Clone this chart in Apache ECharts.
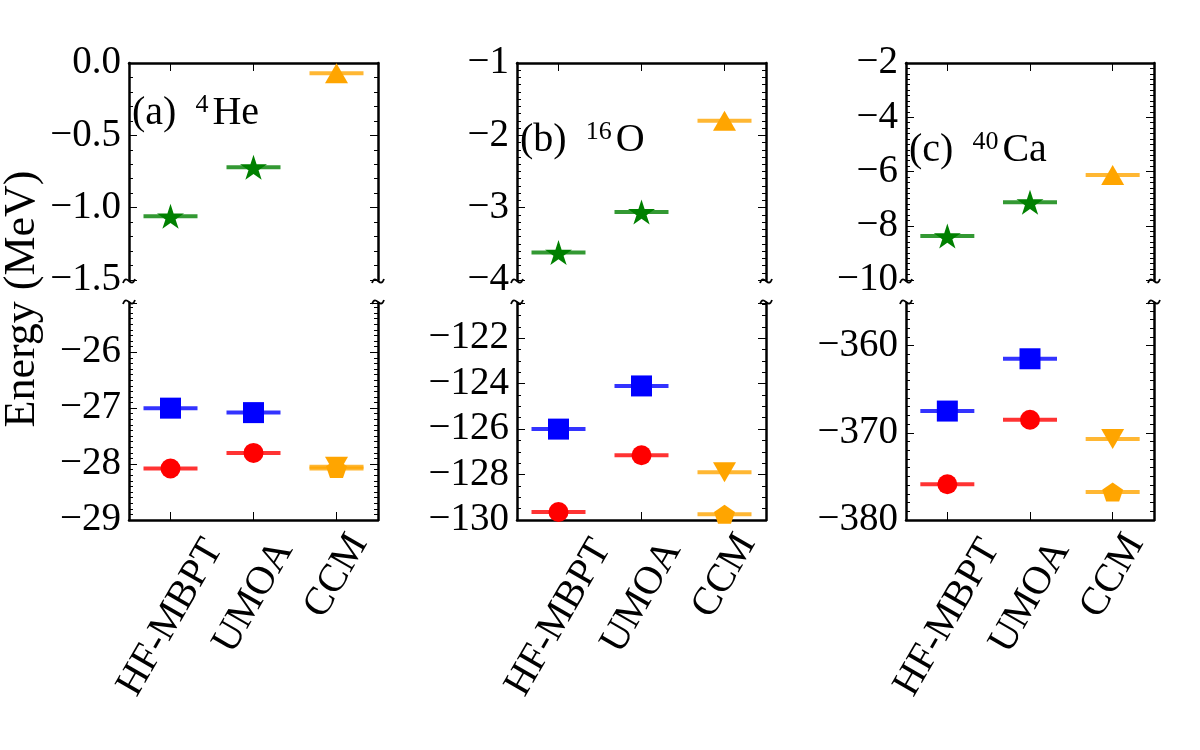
<!DOCTYPE html>
<html>
<head>
<meta charset="utf-8">
<script src="https://cdn.jsdelivr.net/npm/echarts@6/dist/echarts.min.js"></script>
<style>
html, body { margin: 0; padding: 0; background: #fff; }
#main { width: 1200px; height: 750px; }
</style>
</head>
<body>
<div id="main"></div>
<script>
const methods = ['HF-MBPT', 'UMOA', 'CCM'];

// upper panels (stars: green, up-triangle: orange)
const he4Star = [-1.06, -0.72, null];
const he4UpTri = [null, null, -0.07];
const o16Star = [-3.62, -3.06, null];
const o16UpTri = [null, null, -1.80];
const ca40Star = [-8.38, -7.13, null];
const ca40UpTri = [null, null, -6.13];

// lower panels
const he4Square = [-27.0, -27.08, null];
const he4Circle = [-28.08, -27.8, null];
const he4DownTri = [null, null, -28.05];
const he4Pentagon = [null, null, -28.08];

const o16Square = [-126.0, -124.1, null];
const o16Circle = [-129.65, -127.15, null];
const o16DownTri = [null, null, -127.9];
const o16Pentagon = [null, null, -129.75];

const ca40Square = [-367.5, -361.5, null];
const ca40Circle = [-375.9, -368.5, null];
const ca40DownTri = [null, null, -370.7];
const ca40Pentagon = [null, null, -376.8];

// axis ranges
const upperMin = [-1.5, -4, -10];
const upperMax = [0, -1, -2];
const upperStep = [0.5, 1, 2];
const upperMinor = [5, 10, 10];
const lowerMin = [-29, -130, -380];
const lowerMax = [-25.12, -120.45, -355.1];
const lowerStep = [1, 2, 10];
const lowerMinor = [10, 4, 10];

const panelTag = ['(a) ', '(b) ', '(c) '];
const panelMass = ['4', '16', '40'];
const panelElem = ['He', 'O', 'Ca'];

const FONT = 'Liberation Serif';
const GREEN = '#008000', BLUE = '#0000ff', RED = '#ff0000', ORANGE = '#ffa500';
const STAR = 'path://M50,0 L61,35 L98,35 L68,57 L79,91 L50,70 L21,91 L32,57 L2,35 L39,35 Z';
const PENT = 'path://M50,0 L100,38 L81,100 L19,100 L0,38 Z';

const cols = [
  { left: 129, width: 249 },
  { left: 517, width: 249 },
  { left: 906, width: 248 }
];
const upTop = 63, lowTop = 303, panelH = 217;

const fmtMinus = (v, dec) => {
  const s = dec ? v.toFixed(dec) : String(Math.round(v));
  return s.replace('-', '\u2212');
};

const grids = [], xAxes = [], yAxes = [], series = [];

// shifts rotated labels so each one is centred under its tick, tops aligned
const labelPad = {
  hf: [42, 72, 0, 0],
  um: [21, 36, 0, 0],
  cc: [0, 0, 0, 0]
};
const labelKey = { 'HF-MBPT': 'hf', 'UMOA': 'um', 'CCM': 'cc' };

function addGrid(col, lower) {
  const g = grids.length;
  grids.push({ left: cols[col].left, width: cols[col].width, top: lower ? lowTop : upTop, height: panelH });
  const rich = {};
  Object.keys(labelPad).forEach(k => {
    rich[k] = { fontFamily: FONT, fontSize: 40, color: '#000', padding: labelPad[k] };
  });
  xAxes.push({
    type: 'category', data: methods, gridIndex: g,
    position: lower ? 'bottom' : 'top',
    boundaryGap: true,
    axisLine: { show: true, onZero: false, lineStyle: { color: '#000', width: 2.5 } },
    axisTick: { show: true, inside: true, alignWithLabel: true, length: 8, lineStyle: { color: '#000', width: 1 } },
    axisLabel: lower ? {
      show: true, interval: 0, rotate: 60, align: 'center', verticalAlign: 'middle', margin: 56,
      formatter: v => '{' + labelKey[v] + '|' + v + '}', rich: rich
    } : { show: false },
    splitLine: { show: false }
  });
  const min = lower ? lowerMin[col] : upperMin[col];
  const max = lower ? lowerMax[col] : upperMax[col];
  const step = lower ? lowerStep[col] : upperStep[col];
  const minor = lower ? lowerMinor[col] : upperMinor[col];
  const dec = (!lower && col === 0) ? 1 : 0;
  ['left', 'right'].forEach(pos => {
    yAxes.push({
      type: 'value', gridIndex: g, position: pos, min: min, max: max, interval: step,
      axisLine: { show: true, onZero: false, lineStyle: { color: '#000', width: 2.5 } },
      axisTick: { show: true, inside: true, length: 8, lineStyle: { color: '#000', width: 1 } },
      minorTick: { show: true, splitNumber: minor, length: 4, lineStyle: { color: '#000', width: 1 } },
      splitLine: { show: false },
      minorSplitLine: { show: false },
      axisLabel: pos === 'left' ? {
        show: true, fontFamily: FONT, fontSize: 39, color: '#000', margin: 8,
        showMaxLabel: !lower,
        formatter: v => (Math.abs(v / step - Math.round(v / step)) > 1e-6 ? '' : fmtMinus(v, dec))
      } : { show: false }
    });
  });
  return g;
}

function pts(values) {
  const out = [];
  values.forEach((v, i) => { if (v !== null) out.push([methods[i], v]); });
  return out;
}

function addMarks(g, values, symbol, color, size, rot) {
  series.push({
    type: 'scatter', xAxisIndex: g, yAxisIndex: g * 2, z: 2, silent: true,
    symbol: 'rect', symbolSize: [54, 4], itemStyle: { color: color },
    data: pts(values)
  });
  series.push({
    type: 'scatter', xAxisIndex: g, yAxisIndex: g * 2, z: 3, silent: true,
    symbol: symbol, symbolSize: size, symbolRotate: rot || 0, itemStyle: { color: color, opacity: 1 },
    data: pts(values)
  });
}

const upperSets = [[he4Star, he4UpTri], [o16Star, o16UpTri], [ca40Star, ca40UpTri]];
const lowerSets = [
  [he4Square, he4Circle, he4DownTri, he4Pentagon],
  [o16Square, o16Circle, o16DownTri, o16Pentagon],
  [ca40Square, ca40Circle, ca40DownTri, ca40Pentagon]
];

for (let c = 0; c < 3; c++) {
  const gu = addGrid(c, false);
  addMarks(gu, upperSets[c][0], STAR, GREEN, [27, 25]);
  addMarks(gu, upperSets[c][1], 'triangle', ORANGE, [23, 20]);
  const gl = addGrid(c, true);
  addMarks(gl, lowerSets[c][3], PENT, ORANGE, [21, 19]);
  addMarks(gl, lowerSets[c][0], 'rect', BLUE, [21, 21]);
  addMarks(gl, lowerSets[c][1], 'circle', RED, 20);
  addMarks(gl, lowerSets[c][2], 'triangle', ORANGE, [23, 20], 180);
}

// decorations: axis title, panel labels, break marks
const graphic = [{
  type: 'text', x: 22, y: 299, rotation: Math.PI / 2,
  style: { text: 'Energy (MeV)', fontFamily: FONT, fontSize: 44, fill: '#000', align: 'center', verticalAlign: 'middle' }
}];
const labelY = [113, 140, 150];
for (let c = 0; c < 3; c++) {
  graphic.push({
    type: 'text', x: cols[c].left + 3, y: labelY[c],
    style: {
      text: '{p|' + panelTag[c] + '}{s|' + panelMass[c] + '}{p|' + panelElem[c] + '}',
      verticalAlign: 'middle',
      rich: {
        p: { fontFamily: FONT, fontSize: 40, fill: '#000' },
        s: { fontFamily: FONT, fontSize: 26, fill: '#000', padding: [0, 4, 16, 9] }
      }
    }
  });
  [cols[c].left, cols[c].left + cols[c].width].forEach(x => {
    [upTop + panelH + 1, lowTop - 1].forEach(y => {
      graphic.push({
        type: 'bezierCurve',
        shape: { x1: x - 6, y1: y + 2, cpx1: x - 2, cpy1: y - 9, cpx2: x + 2, cpy2: y + 9, x2: x + 6, y2: y - 2 },
        style: { stroke: '#000', lineWidth: 1.8, fill: null }
      });
    });
  });
}

const chart = echarts.init(document.getElementById('main'), null, { renderer: 'canvas' });
chart.setOption({
  animation: false,
  backgroundColor: '#fff',
  grid: grids,
  xAxis: xAxes,
  yAxis: yAxes,
  series: series,
  graphic: graphic
});
</script>
</body>
</html>
